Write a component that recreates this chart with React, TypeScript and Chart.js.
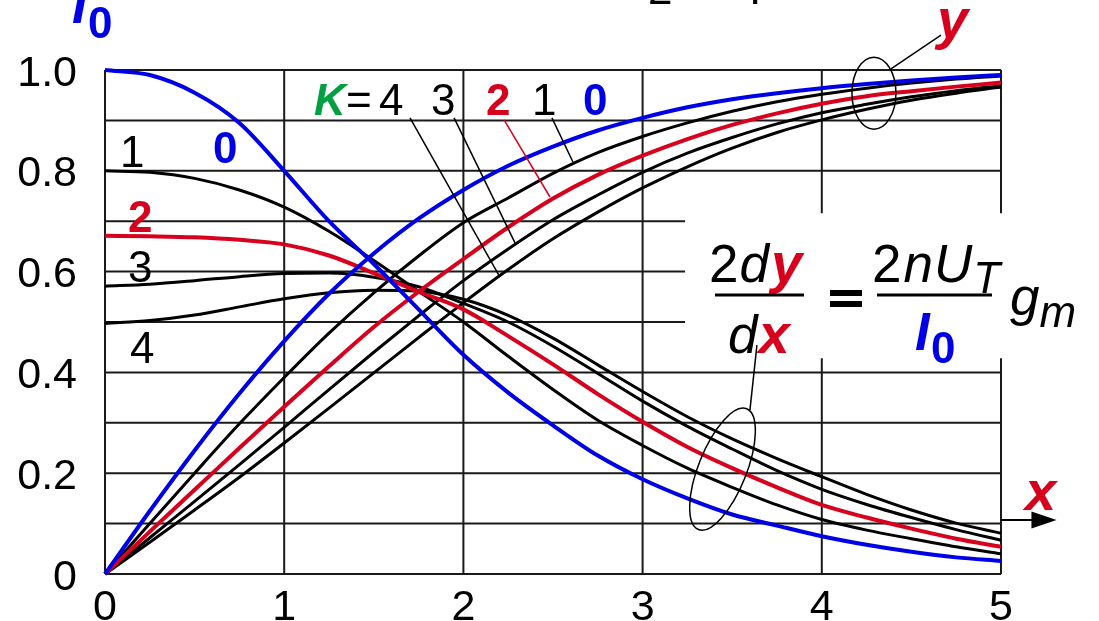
import React, { useEffect, useRef } from "react";
import { Chart, registerables } from "chart.js";

Chart.register(...registerables);

// Normalised input x (sample points)
const xs = [0, 0.25, 0.5, 0.75, 1, 1.25, 1.5, 1.75, 2, 2.25, 2.5, 2.75, 3, 3.25, 3.5, 3.75, 4, 4.25, 4.5, 4.75, 5];

// Transfer curves y(x) for K = 0 … 4
const yK0 = [0, 0.125, 0.245, 0.358, 0.462, 0.556, 0.636, 0.705, 0.762, 0.81, 0.848, 0.88, 0.905, 0.926, 0.942, 0.954, 0.964, 0.972, 0.979, 0.985, 0.99];
const yK1 = [0, 0.1, 0.2, 0.298, 0.39, 0.478, 0.558, 0.631, 0.697, 0.746, 0.795, 0.836, 0.868, 0.895, 0.918, 0.937, 0.952, 0.964, 0.974, 0.982, 0.988];
const yK2 = [0, 0.084, 0.167, 0.25, 0.332, 0.412, 0.49, 0.56, 0.625, 0.688, 0.745, 0.792, 0.83, 0.863, 0.891, 0.914, 0.933, 0.948, 0.958, 0.967, 0.975];
const yK3 = [0, 0.072, 0.144, 0.217, 0.291, 0.366, 0.44, 0.512, 0.582, 0.645, 0.703, 0.752, 0.797, 0.835, 0.866, 0.893, 0.915, 0.932, 0.947, 0.959, 0.969];
const yK4 = [0, 0.063, 0.127, 0.192, 0.26, 0.329, 0.399, 0.469, 0.538, 0.604, 0.665, 0.718, 0.766, 0.808, 0.845, 0.876, 0.901, 0.922, 0.94, 0.954, 0.966];

// Slope curves 2dy/dx for K = 0 … 4
const gK0 = [1.0, 0.99, 0.955, 0.895, 0.8, 0.7, 0.615, 0.525, 0.435, 0.36, 0.295, 0.235, 0.188, 0.15, 0.118, 0.096, 0.075, 0.058, 0.044, 0.033, 0.026];
const gK1 = [0.8, 0.797, 0.785, 0.762, 0.728, 0.68, 0.622, 0.561, 0.5, 0.432, 0.366, 0.305, 0.255, 0.21, 0.172, 0.137, 0.108, 0.087, 0.07, 0.054, 0.04];
const gK2 = [0.671, 0.67, 0.668, 0.663, 0.654, 0.632, 0.597, 0.56, 0.525, 0.472, 0.416, 0.357, 0.302, 0.252, 0.21, 0.172, 0.137, 0.112, 0.09, 0.07, 0.054];
const gK3 = [0.571, 0.575, 0.582, 0.59, 0.596, 0.597, 0.589, 0.57, 0.537, 0.5, 0.452, 0.398, 0.343, 0.293, 0.248, 0.205, 0.168, 0.138, 0.112, 0.088, 0.067];
const gK4 = [0.497, 0.503, 0.514, 0.53, 0.546, 0.558, 0.563, 0.561, 0.545, 0.513, 0.468, 0.415, 0.362, 0.312, 0.268, 0.229, 0.193, 0.158, 0.127, 0.101, 0.081];

// Axis ticks
const xTicks = [0, 1, 2, 3, 4, 5];
const xTickLabels = ["0", "1", "2", "3", "4", "5"];
const yTicks = [0, 0.2, 0.4, 0.6, 0.8, 1.0];
const yTickLabels = ["0", "0.2", "0.4", "0.6", "0.8", "1.0"];
const yGrid = [0, 0.1, 0.2, 0.3, 0.4, 0.5, 0.6, 0.7, 0.8, 0.9, 1.0];
const yGridShort = [0.5, 0.6, 0.7]; // stop before the formula
const xGridBroken = [4, 5]; // interrupted behind the formula

const BLUE = "#0000e6";
const RED = "#d7001d";
const GREEN = "#00a040";
const FONT = '"Liberation Sans", Arial, sans-serif';

const series = (vals: number[], color: string, width: number) => ({
  data: xs.map((x, i) => ({ x, y: vals[i] })),
  borderColor: color,
  borderWidth: width,
  pointRadius: 0,
  fill: false,
  cubicInterpolationMode: "monotone" as const,
  clip: false as const,
});

const gridPlugin = {
  id: "gridPlugin",
  beforeDatasetsDraw(chart: any) {
    const { ctx, scales } = chart;
    const X = (v: number) => scales.x.getPixelForValue(v);
    const Y = (v: number) => scales.y.getPixelForValue(v);
    ctx.save();
    ctx.strokeStyle = "#1a1a1a";
    ctx.lineWidth = 2;
    ctx.lineCap = "butt";
    ctx.beginPath();
    for (const v of yGrid) {
      const end = yGridShort.includes(v) ? 3.237 : 5;
      ctx.moveTo(X(0), Y(v));
      ctx.lineTo(X(end), Y(v));
    }
    for (const v of xTicks) {
      if (xGridBroken.includes(v)) {
        ctx.moveTo(X(v), Y(1));
        ctx.lineTo(X(v), Y(0.716));
        ctx.moveTo(X(v), Y(0.428));
        ctx.lineTo(X(v), Y(0));
      } else {
        ctx.moveTo(X(v), Y(1));
        ctx.lineTo(X(v), Y(0));
      }
    }
    ctx.stroke();
    ctx.restore();
  },
};

const labelPlugin = {
  id: "labelPlugin",
  afterDatasetsDraw(chart: any) {
    const { ctx, scales } = chart;
    const X = (v: number) => scales.x.getPixelForValue(v);
    const Y = (v: number) => scales.y.getPixelForValue(v);
    ctx.save();
    ctx.fillStyle = "#000";
    ctx.textBaseline = "alphabetic";

    // tick labels
    ctx.font = `43px ${FONT}`;
    ctx.textAlign = "right";
    yTicks.forEach((v, i) => ctx.fillText(yTickLabels[i], X(0) - 28, Y(v) + 15.5));
    ctx.textAlign = "center";
    xTicks.forEach((v, i) => ctx.fillText(xTickLabels[i], X(v), 620));
    ctx.textAlign = "left";

    const put = (t: string, x: number, y: number, font: string, color: string) => {
      ctx.font = font;
      ctx.fillStyle = color;
      ctx.fillText(t, x, y);
      return x + ctx.measureText(t).width;
    };
    const reg = (s: number) => `${s}px ${FONT}`;
    const ita = (s: number) => `italic ${s}px ${FONT}`;
    const bld = (s: number) => `bold ${s}px ${FONT}`;
    const bi = (s: number) => `italic bold ${s}px ${FONT}`;

    // heading fragments along the top edge
    put("2", 648, 4, reg(44), "#000");
    put("I", 749, 4, reg(44), "#000");

    // I0 on the vertical axis
    put("I", 72, 23, bi(53), BLUE);
    put("0", 88, 38, bld(44), BLUE);

    // y and x axis names
    put("y", 937, 38, bi(56), RED);
    put("x", 1025, 510, bi(56), RED);

    // K labels row
    put("K", 314, 115, bi(44), GREEN);
    put("=", 346, 115, reg(44), "#000");
    put("4", 379, 115, reg(44), "#000");
    put("3", 431, 115, reg(44), "#000");
    put("2", 486, 115, bld(44), RED);
    put("1", 532, 115, reg(44), "#000");
    put("0", 583, 115, bld(44), BLUE);

    // labels at the slope curves' start
    put("1", 120, 167, reg(44), "#000");
    put("0", 213, 163, bld(44), BLUE);
    put("2", 128, 232, bld(44), RED);
    put("3", 128, 282, reg(44), "#000");
    put("4", 130, 363, reg(44), "#000");

    // formula: 2dy/dx = 2nU_T/I0 · g_m
    let cx = put("2", 709, 282, reg(53), "#000");
    cx = put("d", cx + 1, 282, ita(53), "#000");
    put("y", cx + 2, 282, bi(56), RED);
    cx = put("d", 728, 353, ita(53), "#000");
    put("x", cx + 1, 353, bi(56), RED);
    ctx.fillStyle = "#000";
    ctx.fillRect(715, 293.5, 89, 3);
    ctx.fillRect(830, 290, 32, 6);
    ctx.fillRect(830, 301, 32, 6);
    cx = put("2", 872, 282, reg(53), "#000");
    cx = put("n", cx + 2, 282, ita(53), "#000");
    cx = put("U", cx + 1, 282, ita(53), "#000");
    put("T", cx + 1, 293, ita(44), "#000");
    ctx.fillStyle = "#000";
    ctx.fillRect(877, 293.5, 115, 3);
    put("I", 915, 350, bi(53), BLUE);
    put("0", 931, 363, bld(44), BLUE);
    cx = put("g", 1010, 315, ita(53), "#000");
    put("m", cx, 327, ita(44), "#000");

    // leader lines from the K labels to the transfer curves
    const seg = (a: number[], b: number[], color: string, w: number) => {
      ctx.strokeStyle = color;
      ctx.lineWidth = w;
      ctx.beginPath();
      ctx.moveTo(X(a[0]), Y(a[1]));
      ctx.lineTo(X(b[0]), Y(b[1]));
      ctx.stroke();
    };
    seg([1.702, 0.905], [2.204, 0.589], "#000", 1.5);
    seg([1.948, 0.905], [2.288, 0.657], "#000", 1.5);
    seg([2.227, 0.901], [2.483, 0.748], RED, 1.5);
    seg([2.494, 0.905], [2.612, 0.817], "#000", 1.5);
    seg([4.665, 1.069], [4.386, 1.002], "#000", 1.5);
    seg([3.638, 0.454], [3.599, 0.325], "#000", 1.5);

    // ellipses grouping the curve families
    ctx.strokeStyle = "#000";
    ctx.lineWidth = 1.5;
    ctx.beginPath();
    ctx.ellipse(X(4.291), Y(0.954), 22, 36, 0, 0, Math.PI * 2);
    ctx.stroke();
    ctx.beginPath();
    ctx.ellipse(X(3.446), Y(0.208), 24, 65, 0.38, 0, Math.PI * 2);
    ctx.stroke();

    // x axis arrow
    const ay = Y(0.107);
    ctx.lineWidth = 2;
    ctx.beginPath();
    ctx.moveTo(X(5), ay);
    ctx.lineTo(X(5.18), ay);
    ctx.stroke();
    ctx.fillStyle = "#000";
    ctx.beginPath();
    ctx.moveTo(X(5.31), ay);
    ctx.lineTo(X(5.17), ay - 8.5);
    ctx.lineTo(X(5.17), ay + 8.5);
    ctx.closePath();
    ctx.fill();

    ctx.restore();
  },
};

export default function App() {
  const ref = useRef<HTMLCanvasElement | null>(null);

  useEffect(() => {
    if (!ref.current) return;
    const chart = new Chart(ref.current, {
      type: "line",
      data: {
        datasets: [
          series(yK0, BLUE, 4),
          series(gK0, BLUE, 4),
          series(yK2, RED, 4),
          series(gK2, RED, 4),
          series(yK1, "#000", 3),
          series(gK1, "#000", 3),
          series(yK3, "#000", 3),
          series(gK3, "#000", 3),
          series(yK4, "#000", 3),
          series(gK4, "#000", 3),
        ],
      },
      options: {
        animation: false,
        responsive: true,
        maintainAspectRatio: false,
        layout: { padding: { left: 105, right: 98, top: 70, bottom: 47 } },
        plugins: { legend: { display: false }, tooltip: { enabled: false } },
        scales: {
          x: { type: "linear", min: 0, max: 5, display: false },
          y: { type: "linear", min: 0, max: 1, display: false },
        },
      },
      plugins: [gridPlugin, labelPlugin],
    });
    return () => chart.destroy();
  }, []);

  return (
    <div style={{ position: "fixed", left: 0, top: 0, width: 1099, height: 621, background: "#fff" }}>
      <canvas ref={ref} />
    </div>
  );
}
